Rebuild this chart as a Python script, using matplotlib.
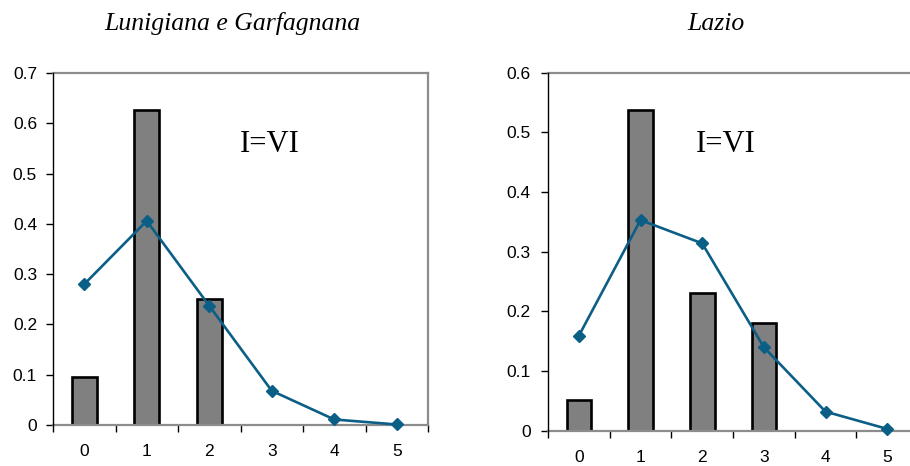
import matplotlib
matplotlib.use("Agg")
import matplotlib.pyplot as plt
from matplotlib.ticker import FixedLocator, NullFormatter, FixedFormatter
import numpy as np

categories = [0, 1, 2, 3, 4, 5]
tick_labels = ["0", "1", "2", "3", "4", "5"]

titles = ["Lunigiana e Garfagnana", "Lazio"]
annotation = "I=VI"

lunigiana_bars = [0.095, 0.626, 0.251, 0.0, 0.0, 0.0]
lunigiana_line = [0.280, 0.406, 0.237, 0.068, 0.011, 0.001]
lunigiana_yticks = [0, 0.1, 0.2, 0.3, 0.4, 0.5, 0.6, 0.7]

lazio_bars = [0.051, 0.537, 0.231, 0.180, 0.0, 0.0]
lazio_line = [0.159, 0.353, 0.314, 0.140, 0.032, 0.003]
lazio_yticks = [0, 0.1, 0.2, 0.3, 0.4, 0.5, 0.6]

W, H = 910, 466
fig = plt.figure(figsize=(W / 100, H / 100), dpi=100)

LINE_COLOR = "#0b5f86"
BAR_COLOR = "#808080"
GRAY = "#8c8c8c"


def px_axes(l, r, t, b):
    return fig.add_axes([l / W, 1 - b / H, (r - l) / W, (b - t) / H])


def draw(ax, bars, line, yticks, ypad):
    x = np.array(categories)
    vals = np.array(bars)
    nz = vals > 0
    ax.bar(x[nz], vals[nz], width=0.4, color=BAR_COLOR, edgecolor="black", linewidth=1.9, zorder=2)
    ax.plot(x, line, color=LINE_COLOR, linewidth=1.9, marker="D", markersize=6.5,
            markerfacecolor=LINE_COLOR, markeredgecolor=LINE_COLOR, zorder=3, clip_on=False)
    ax.set_xlim(-0.5, 5.5)
    ax.set_ylim(0, yticks[-1])
    ax.set_yticks(yticks)
    ax.set_yticklabels(["0" if v == 0 else f"{v:.1f}" for v in yticks])
    ax.xaxis.set_major_locator(FixedLocator(np.arange(-0.5, 6.0, 1.0)))
    ax.xaxis.set_major_formatter(NullFormatter())
    ax.xaxis.set_minor_locator(FixedLocator(x))
    ax.xaxis.set_minor_formatter(FixedFormatter(tick_labels))
    ax.tick_params(axis="x", which="major", direction="out", length=5, width=1, color="black")
    ax.tick_params(axis="x", which="minor", length=0, pad=14, labelsize=12.5)
    ax.tick_params(axis="y", direction="out", length=5, width=1, color="black", pad=ypad, labelsize=12.5)
    for lab in ax.get_xticklabels(minor=True) + ax.get_yticklabels():
        lab.set_fontfamily("Liberation Sans")
    ax.spines["left"].set_color("black")
    ax.spines["left"].set_linewidth(1.0)
    for s in ("top", "right", "bottom"):
        ax.spines[s].set_color(GRAY)
        ax.spines[s].set_linewidth(1.6)
    ax.spines["left"].set_zorder(4)


ax1 = px_axes(53, 428, 73, 425)
draw(ax1, lunigiana_bars, lunigiana_line, lunigiana_yticks, 6.5)

ax2 = px_axes(548, 918, 72.7, 430.7)
draw(ax2, lazio_bars, lazio_line, lazio_yticks, 7.5)

fig.text(232.5 / W, 1 - 30 / H, titles[0], ha="center", va="baseline",
         fontfamily="Liberation Serif", fontstyle="italic", fontsize=18.5)
fig.text(716 / W, 1 - 30 / H, titles[1], ha="center", va="baseline",
         fontfamily="Liberation Serif", fontstyle="italic", fontsize=18.5)

fig.text(270 / W, 1 - 144 / H, annotation, ha="center", va="center",
         fontfamily="Liberation Serif", fontsize=22)
fig.text(726 / W, 1 - 144 / H, annotation, ha="center", va="center",
         fontfamily="Liberation Serif", fontsize=22)

fig.savefig("out.png", dpi=100)
